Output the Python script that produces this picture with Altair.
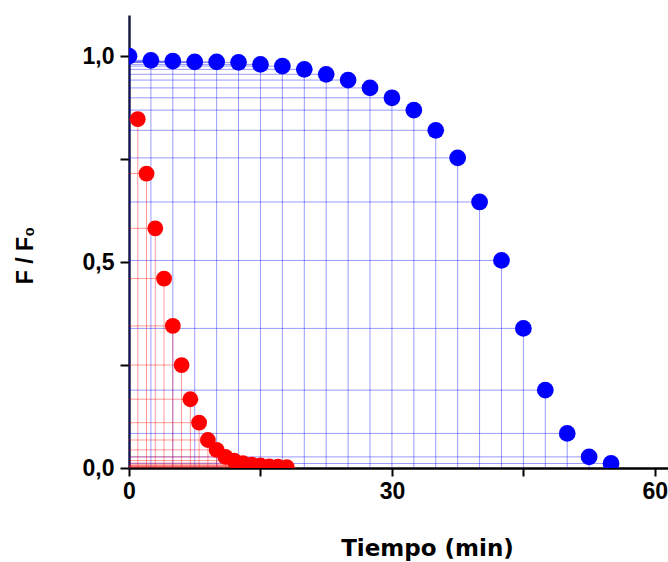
import altair as alt
import pandas as pd

# Blue series (time in min, F/F0)
blue_t = [0, 2.5, 5, 7.5, 10, 12.5, 15, 17.5, 20, 22.5, 25, 27.5, 30, 32.5, 35,
          37.5, 40, 42.5, 45, 47.5, 50, 52.5, 55]
blue_f = [1.0, 0.99, 0.988, 0.986, 0.986, 0.985, 0.98, 0.976, 0.968, 0.956, 0.942,
          0.923, 0.899, 0.869, 0.82, 0.753, 0.646, 0.504, 0.339, 0.189, 0.084, 0.027, 0.011]

# Red series
red_t = [1, 2, 3, 4, 5, 6, 7, 8, 9, 10, 11, 12, 13, 14, 15, 16, 17, 18]
red_f = [0.847, 0.715, 0.582, 0.46, 0.345, 0.25, 0.167, 0.11, 0.068, 0.044, 0.027,
         0.018, 0.012, 0.008, 0.006, 0.004, 0.003, 0.002]

x_ticks = [0, 15, 30, 45, 60]
y_ticks = [0, 0.25, 0.5, 0.75, 1.0]

df = pd.concat([
    pd.DataFrame({"t": blue_t, "f": blue_f, "s": "azul"}),
    pd.DataFrame({"t": red_t, "f": red_f, "s": "rojo"}),
], ignore_index=True)

xs = alt.Scale(domain=[0, 61.5], nice=False, zero=False)
ys = alt.Scale(domain=[0, 1.1], nice=False, zero=False)
col_scale = alt.Scale(domain=["azul", "rojo"], range=["#0000ff", "#ff0000"])

x_axis = alt.Axis(
    values=x_ticks,
    labelExpr="datum.value % 30 == 0 ? datum.label : ''",
    title="Tiempo (min)",
    titleFont="DejaVu Sans", titleFontSize=23, titleFontWeight="bold",
    titleX=298, titleY=87, titleBaseline="alphabetic", titleAlign="center",
    labelFont="Liberation Sans", labelFontSize=23, labelFontWeight="bold",
    labelColor="#000", labelPadding=4, labelFlush=False, labelOverlap=False,
    tickSize=8, tickWidth=2, tickColor="#000",
    domainColor="#000", domainWidth=2.5, grid=False,
)
y_axis = alt.Axis(
    values=y_ticks,
    labelExpr="(datum.value == 0 || datum.value == 0.5 || datum.value == 1) ? replace(format(datum.value, '.1f'), '.', ',') : ''",
    title="F / F₀",
    titleFont="Liberation Sans", titleFontSize=23, titleFontWeight="bold",
    titleAngle=270, titleX=-104, titleY=240, titleAlign="center", titleBaseline="middle",
    labelFont="Liberation Sans", labelFontSize=23, labelFontWeight="bold",
    labelColor="#000", labelPadding=6, labelFlush=False, labelOverlap=False,
    tickSize=9, tickWidth=2, tickColor="#000",
    domainColor="#1a1a40", domainWidth=2.5, grid=False,
)

base = alt.Chart(df)

vert = base.mark_rule(strokeWidth=1, opacity=0.4, clip=True).encode(
    x=alt.X("t:Q", scale=xs, axis=x_axis),
    y=alt.Y("f:Q", scale=ys, axis=y_axis),
    y2=alt.datum(0),
    color=alt.Color("s:N", scale=col_scale, legend=None),
)
horiz = base.mark_rule(strokeWidth=1, opacity=0.4, clip=True).encode(
    x=alt.X("t:Q", scale=xs),
    x2=alt.datum(0),
    y=alt.Y("f:Q", scale=ys),
    color=alt.Color("s:N", scale=col_scale, legend=None),
)
red_pts = alt.Chart(df[df.s == "rojo"]).mark_circle(size=250, opacity=1, clip=True).encode(
    x=alt.X("t:Q", scale=xs),
    y=alt.Y("f:Q", scale=ys),
    color=alt.Color("s:N", scale=col_scale, legend=None),
)
blue_pts = alt.Chart(df[df.s == "azul"]).mark_circle(size=280, opacity=1, clip=True).encode(
    x=alt.X("t:Q", scale=xs),
    y=alt.Y("f:Q", scale=ys),
    color=alt.Color("s:N", scale=col_scale, legend=None),
)

chart = alt.layer(vert, horiz, red_pts, blue_pts).properties(
    width=539, height=453,
    background="white",
    autosize=alt.AutoSizeParams(type="none"),
    padding={"left": 129, "top": 15, "right": 0, "bottom": 94},
).configure_view(stroke=None, strokeWidth=0)

chart.save("out.html", embed_options={"renderer": "svg", "actions": False})
